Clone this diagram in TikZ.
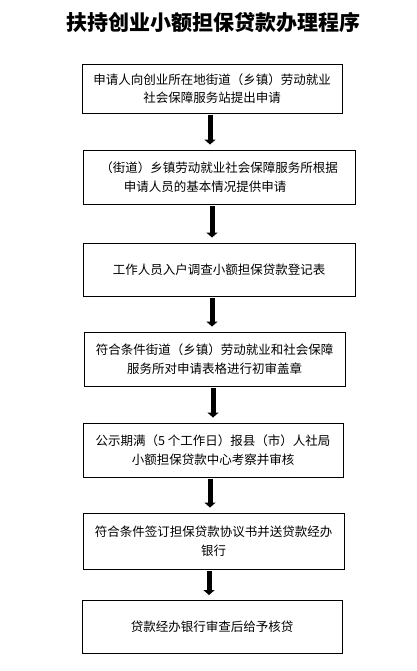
\documentclass[tikz,border=0pt]{standalone}
\usepackage{fontspec}
\newfontfamily\cjk{Noto Sans CJK SC}
\usetikzlibrary{arrows.meta}
\tikzset{
  box/.style={draw=black, line width=0.9pt, inner sep=0pt, align=center,
    font=\cjk\fontsize{12.5pt}{18.5pt}\selectfont},
  arr/.style={line width=5pt, -{Triangle[width=11pt,length=5pt]},
    shorten <=2pt, shorten >=5pt},
  titlestyle/.style={font=\cjk\bfseries\fontsize{21pt}{24pt}\selectfont, inner sep=0pt}
}
\begin{document}
\begin{tikzpicture}[x=1pt,y=-1pt]
\useasboundingbox (0,0) rectangle (416,671);
\node[titlestyle] (title) at (213,23) {扶持创业小额担保贷款办理程序};
\node[box, minimum width=260pt, minimum height=49pt] (b1) at (212,88.5)
  {申请人向创业所在地街道（乡镇）劳动就业\\社会保障服务站提出申请};
\node[box, minimum width=272pt, minimum height=54pt] (b2) at (219,177)
  {（街道）乡镇劳动就业社会保障服务所根据\\\hspace*{-28pt}申请人员的基本情况提供申请};
\node[box, minimum width=272pt, minimum height=53pt] (b3) at (219,269.5)
  {工作人员入户调查小额担保贷款登记表};
\node[box, minimum width=261pt, minimum height=54pt] (b4) at (214.5,359)
  {符合条件街道（乡镇）劳动就业和社会保障\\服务所对申请表格进行初审盖章};
\node[box, minimum width=260pt, minimum height=54pt] (b5) at (213,450)
  {公示期满（5 个工作日）报县（市）人社局\\小额担保贷款中心考察并审核};
\node[box, minimum width=261pt, minimum height=56pt] (b6) at (213.5,541)
  {符合条件签订担保贷款协议书并送贷款经办\\银行};
\node[box, minimum width=260pt, minimum height=53pt] (b7) at (212,627)
  {贷款经办银行审查后给予核贷};
\draw[arr] ([xshift=-2pt]b1.south) -- ([xshift=-2pt]b1.south |- b2.north);
\draw[arr] ([xshift=-7pt]b2.south) -- ([xshift=-7pt]b2.south |- b3.north);
\draw[arr] ([xshift=-7pt]b3.south) -- ([xshift=-7pt]b3.south |- b4.north);
\draw[arr] ([xshift=-1.5pt]b4.south) -- ([xshift=-1.5pt]b4.south |- b5.north);
\draw[arr] ([xshift=-3pt]b5.south) -- ([xshift=-3pt]b5.south |- b6.north);
\draw[arr] ([xshift=-4.5pt]b6.south) -- ([xshift=-4.5pt]b6.south |- b7.north);
\end{tikzpicture}
\end{document}
